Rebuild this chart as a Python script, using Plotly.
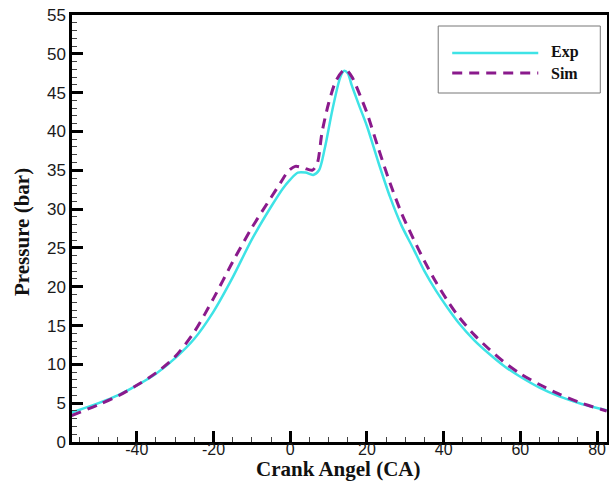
import plotly.graph_objects as go

# Crank angle (deg) and pressure (bar)
exp_ca = [-57, -50, -45, -40, -35, -30, -25, -20, -15, -10, -5, -2, 0, 2, 4, 6, 7.5, 9, 11, 13, 14, 15,
          16, 18, 20, 23, 26, 29, 32, 35, 38, 41, 44, 48, 52, 56, 60, 65, 70, 76, 82.5]
exp_p = [3.8, 5.0, 6.0, 7.3, 8.8, 10.8, 13.3, 16.8, 21.2, 26.1, 30.3, 32.6, 33.8, 34.7, 34.7, 34.4, 35.0,
         37.8, 42.8, 46.9, 47.8, 47.5, 46.0, 43.3, 40.7, 36.0, 31.6, 27.9, 25.0, 22.0, 19.5, 17.3, 15.3,
         13.1, 11.3, 9.7, 8.4, 7.0, 5.9, 4.9, 4.1]

sim_ca = [-57, -50, -45, -40, -35, -30, -25, -20, -15, -10, -5, -2.5, -0.5, 1.3, 3.5, 5.7, 7, 8.3, 10,
          12, 14.3, 16, 18, 20, 23, 26, 29, 32, 35, 38, 41, 44, 48, 52, 56, 60, 65, 70, 76, 82.5]
sim_p = [3.4, 4.8, 5.9, 7.3, 8.9, 11.0, 14.2, 18.5, 23.2, 27.6, 31.5, 33.4, 34.9, 35.5, 35.3, 35.0, 35.8,
         39.9, 43.6, 46.6, 48.0, 47.1, 44.9, 42.4, 37.8, 33.4, 29.5, 26.3, 23.3, 20.6, 18.2, 16.1, 13.8,
         11.9, 10.2, 8.8, 7.4, 6.2, 5.0, 4.0]

x_ticks = [-40, -20, 0, 20, 40, 60, 80]
x_tick_text = ["-40", "-20", "0", "20", "40", "60", "80"]
y_ticks = [0, 5, 10, 15, 20, 25, 30, 35, 40, 45, 50, 55]

EXP_COLOR = "#3EE3E6"
SIM_COLOR = "#8A1A8C"
SERIF = "Liberation Serif, Times New Roman, serif"
SANS = "Liberation Sans, Arial, sans-serif"

fig = go.Figure()
fig.add_trace(go.Scatter(x=exp_ca, y=exp_p, mode="lines", name="Exp",
                         line=dict(color=EXP_COLOR, width=2.5, shape="spline", smoothing=0.8),
                         showlegend=False))
fig.add_trace(go.Scatter(x=sim_ca, y=sim_p, mode="lines", name="Sim",
                         line=dict(color=SIM_COLOR, width=3, dash="10px,7px", shape="spline", smoothing=0.8),
                         showlegend=False))

axis_common = dict(
    showgrid=False, zeroline=False, showline=True, linecolor="black", linewidth=2.5,
    mirror=True, ticks="inside", ticklen=11, tickwidth=2.5, tickcolor="black", automargin=False,
)

fig.update_xaxes(range=[-56.9, 82.6], tickvals=x_ticks, ticktext=x_tick_text, **axis_common,
                 tickfont=dict(family=SANS, size=16, color="#1a1a1a"), ticklabelstandoff=-9,
                 minor=dict(dtick=5, ticks="inside", ticklen=5, tickwidth=1, tickcolor="#444"))
fig.update_yaxes(range=[0, 55], tickvals=y_ticks, **axis_common,
                 tickfont=dict(family=SANS, size=17, color="#1a1a1a"),
                 minor=dict(dtick=1, ticks="inside", ticklen=5, tickwidth=1, tickcolor="#444"))

W, H = 609, 481
x0p, x1p = 72, 606.7
y0p, y1p = 442, 15
def px(xp):
    return (xp - x0p) / (x1p - x0p)
def py(yp):
    return (y0p - yp) / (y0p - y1p)

# Axis titles
fig.add_annotation(text="<b>Crank Angel (CA)</b>", xref="paper", yref="paper",
                   x=px(338), y=py(455), xanchor="center", yanchor="top", showarrow=False,
                   font=dict(family=SERIF, size=21, color="#111"))
fig.add_annotation(text="<b>Pressure (bar)</b>", xref="paper", yref="paper",
                   x=px(22), y=py(232), xanchor="center", yanchor="middle", showarrow=False,
                   textangle=-90, font=dict(family=SERIF, size=21, color="#111"))

# Legend box drawn in paper coordinates
fig.add_shape(type="rect", xref="paper", yref="paper",
              x0=px(438), x1=px(600), y0=py(93), y1=py(26),
              line=dict(color="#777", width=1), fillcolor="white")
fig.add_shape(type="line", xref="paper", yref="paper",
              x0=px(452), x1=px(538), y0=py(53), y1=py(53),
              line=dict(color=EXP_COLOR, width=2.5))
fig.add_shape(type="line", xref="paper", yref="paper",
              x0=px(452), x1=px(538), y0=py(73), y1=py(73),
              line=dict(color=SIM_COLOR, width=3, dash="10px,7px"))
for label, yy in (("Exp", 52), ("Sim", 73)):
    fig.add_annotation(text="<b>" + label + "</b>", xref="paper", yref="paper",
                       x=px(549), y=py(yy), xanchor="left", yanchor="middle", showarrow=False,
                       font=dict(family=SERIF, size=16, color="#111"))

fig.update_layout(
    width=W, height=H,
    margin=dict(l=72, r=W - 606.7, t=15, b=H - 442),
    paper_bgcolor="white", plot_bgcolor="white",
    showlegend=False,
)

fig.write_html("out.html")
